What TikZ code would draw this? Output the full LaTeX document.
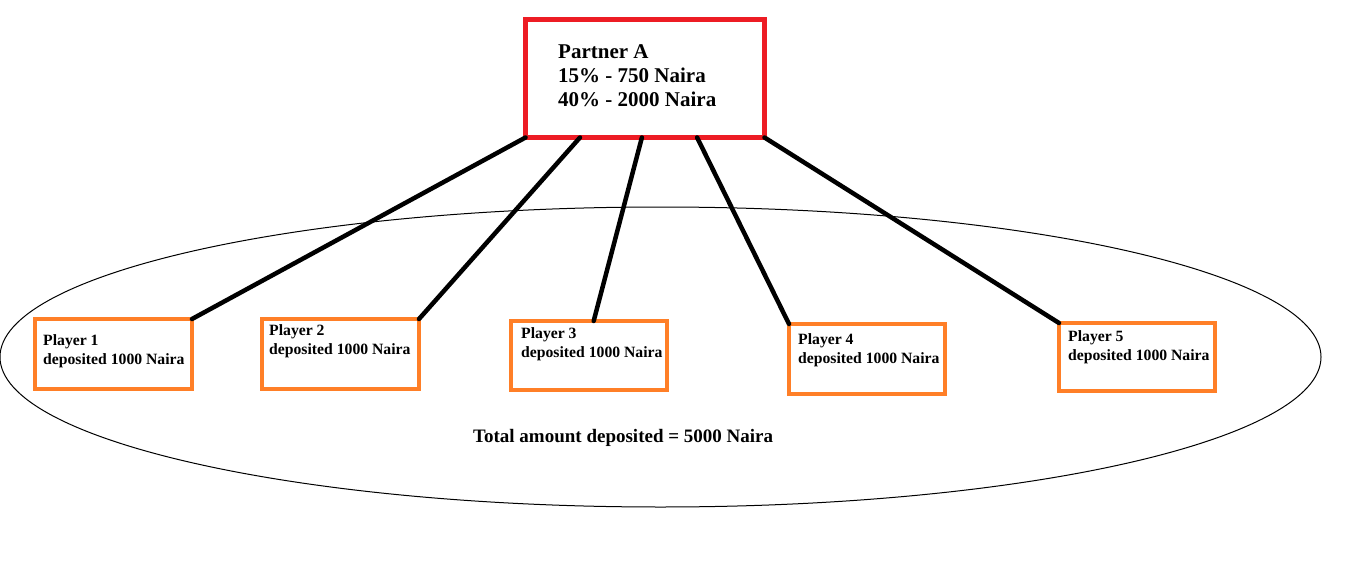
\documentclass[tikz,border=0pt]{standalone}
\usepackage{fontspec}
\setmainfont{Liberation Serif}
\usetikzlibrary{calc}
\definecolor{pared}{HTML}{ED1C24}
\definecolor{paorange}{HTML}{FF7F27}
\begin{document}
\begin{tikzpicture}[x=1pt,y=-1pt,
  partnerbox/.style={draw=pared,line width=5pt,minimum width=239pt,minimum height=118pt,inner sep=0pt,outer sep=0pt},
  playerbox/.style={draw=paorange,line width=4pt,minimum width=157pt,minimum height=70pt,inner sep=0pt,outer sep=0pt,fill=white},
  playertext/.style={anchor=base west,inner sep=0pt,font=\fontsize{15.7}{19}\selectfont\bfseries},
  link/.style={line width=4.5pt,line cap=round,black}]
\useasboundingbox (0,0) rectangle (1359,583);
\fill[white] (0,0) rectangle (1359,583);
% ellipse
\draw[line width=1pt] (660.5,357) ellipse [x radius=660.5pt, y radius=150pt];
% partner
\node[partnerbox] (pA) at (645,78.5) {};
\node[anchor=base west,inner sep=0pt,font=\fontsize{21}{24}\selectfont\bfseries] (pAt) at (558,59)
  {\begin{tabular}[t]{@{}l@{}}Partner A\\15\% - 750 Naira\\40\% - 2000 Naira\end{tabular}};
% players
\node[playerbox] (p1) at (113.5,354) {};
\node[playerbox] (p2) at (340.5,354) {};
\node[playerbox,minimum width=156pt,minimum height=69pt] (p3) at (589,355.5) {};
\node[playerbox,minimum width=156pt] (p4) at (867,359) {};
\node[playerbox,minimum width=156pt,minimum height=68pt] (p5) at (1137,357) {};
\node[playertext] (p1t) at (43,345) {\begin{tabular}[t]{@{}l@{}}Player 1\\deposited 1000 Naira\end{tabular}};
\node[playertext] (p2t) at (269,335) {\begin{tabular}[t]{@{}l@{}}Player 2\\deposited 1000 Naira\end{tabular}};
\node[playertext] (p3t) at (521,338) {\begin{tabular}[t]{@{}l@{}}Player 3\\deposited 1000 Naira\end{tabular}};
\node[playertext] (p4t) at (798,344) {\begin{tabular}[t]{@{}l@{}}Player 4\\deposited 1000 Naira\end{tabular}};
\node[playertext] (p5t) at (1068,341) {\begin{tabular}[t]{@{}l@{}}Player 5\\deposited 1000 Naira\end{tabular}};
% connectors
\draw[link] (pA.south west) -- (p1.north east);
\draw[link] ($(pA.south west)!0.228!(pA.south east)$) -- (p2.north east);
\draw[link] ($(pA.south west)!0.487!(pA.south east)$) -- ($(p3.north west)!0.53!(p3.north east)$);
\draw[link] ($(pA.south west)!0.718!(pA.south east)$) -- (p4.north west);
\draw[link] (pA.south east) -- (p5.north west);
% total
\node[anchor=base west,inner sep=0pt,font=\fontsize{19}{22}\selectfont\bfseries] (total) at (473,442) {Total amount deposited = 5000 Naira};
\end{tikzpicture}
\end{document}
